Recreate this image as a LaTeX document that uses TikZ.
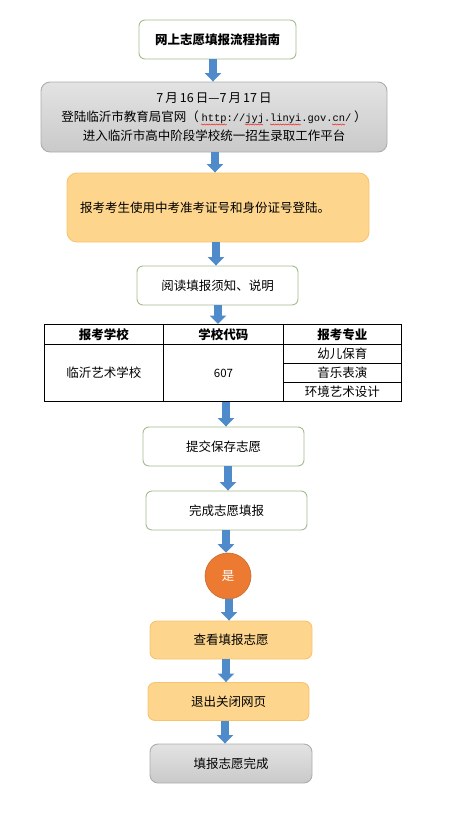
\documentclass[tikz,border=0pt]{standalone}
\usepackage{fontspec}
\setmainfont{Noto Sans CJK SC}
\newfontfamily\monofont{Liberation Mono}
\usetikzlibrary{arrows.meta,decorations.pathmorphing}
\definecolor{arrowblue}{HTML}{4F8ACB}
\definecolor{greenborder}{HTML}{A3BD8E}
\definecolor{orangefill}{HTML}{FDD58C}
\definecolor{orangeborder}{HTML}{F7C46E}
\definecolor{grayborder}{HTML}{ADADAD}
\definecolor{circorange}{HTML}{EC7A31}
\tikzset{
  flow/.style={draw=arrowblue,line width=7.5pt,-{Triangle[width=16pt,length=8.5pt]}},
  whitebox/.style={draw=greenborder,line width=0.9pt,fill=white,rounded corners=6pt,minimum width=161pt,minimum height=39pt,font=\fontsize{12.5}{14}\selectfont,inner sep=0pt},
  orangebox/.style={draw=orangeborder,line width=0.9pt,fill=orangefill,rounded corners=7pt,minimum width=161pt,minimum height=38pt,font=\fontsize{12.5}{14}\selectfont,inner sep=0pt},
  graybox/.style={draw=grayborder,line width=0.9pt,top color=gray!22,bottom color=gray!42,rounded corners=8pt,minimum width=161pt,minimum height=39pt,font=\fontsize{12.5}{14}\selectfont,inner sep=0pt},
  cell/.style={draw=black,line width=0.9pt,rectangle,inner sep=0pt,font=\fontsize{12.5}{14}\selectfont,anchor=north west},
  spell/.style={draw=red,line width=0.4pt,decorate,decoration={snake,amplitude=0.6pt,segment length=2.5pt}}
}
\begin{document}
\begin{tikzpicture}[x=1pt,y=-1pt]
\useasboundingbox (0,0) rectangle (463,817);
% boxes
\node[whitebox,font=\fontsize{12.5}{14}\selectfont\bfseries,minimum width=157pt] (title) at (217.5,39.5) {网上志愿填报流程指南};
\node[graybox,minimum width=346pt,minimum height=70pt,align=center,font=\fontsize{12.5}{19}\selectfont,rounded corners=9pt] (gray) at (214,117)
  {7\,月\,16\,日—7\,月\,17\,日\\登陆临沂市教育局官网（ {\monofont\fontsize{10.4}{14}\selectfont http://jyj.linyi.gov.cn/} ）\\进入临沂市高中阶段学校统一招生录取工作平台};
\node[orangebox,minimum width=302pt,minimum height=69pt,rounded corners=10pt] (login) at (218,207.5) {};
\node[anchor=west,font=\fontsize{12.5}{14}\selectfont,inner sep=0pt] (logintext) at (80,208) {报考考生使用中考准考证号和身份证号登陆。};
\node[whitebox] (read) at (217.5,285.5) {阅读填报须知、说明};
% table
\node[cell,minimum width=119pt,minimum height=20pt,font=\fontsize{12.5}{14}\selectfont\bfseries] (h1) at (44,324) {报考学校};
\node[cell,minimum width=120pt,minimum height=20pt,font=\fontsize{12.5}{14}\selectfont\bfseries] (h2) at (163,324) {学校代码};
\node[cell,minimum width=118pt,minimum height=20pt,font=\fontsize{12.5}{14}\selectfont\bfseries] (h3) at (283,324) {报考专业};
\node[cell,minimum width=119pt,minimum height=57pt] (school) at (44,344) {临沂艺术学校};
\node[cell,minimum width=120pt,minimum height=57pt,font=\fontsize{11.5}{14}\selectfont] (code) at (163,344) {607};
\node[cell,minimum width=118pt,minimum height=19pt] (m1) at (283,344) {幼儿保育};
\node[cell,minimum width=118pt,minimum height=19pt] (m2) at (283,363) {音乐表演};
\node[cell,minimum width=118pt,minimum height=19pt] (m3) at (283,382) {环境艺术设计};
\node[whitebox] (submit) at (223.5,446.5) {提交保存志愿};
\node[whitebox] (complete) at (226.5,510.5) {完成志愿填报};
\node[circle,fill=circorange,draw=circorange!85!black,line width=0.6pt,minimum size=46pt,inner sep=0pt,text=white,font=\fontsize{12.5}{14}\selectfont] (yes) at (228,576) {是};
\node[orangebox,minimum width=162pt] (view) at (231,640) {查看填报志愿};
\node[orangebox] (exit) at (228.5,701.5) {退出关闭网页};
\node[graybox,minimum width=162pt] (done) at (231,763.5) {填报志愿完成};
% spell-check marks
\coordinate (s1a) at (201,124.5); \coordinate (s1b) at (227,124.5);
\coordinate (s2a) at (245,124.5); \coordinate (s2b) at (263,124.5);
\coordinate (s3a) at (270,124.5); \coordinate (s3b) at (301,124.5);
\coordinate (s4a) at (332,124.5); \coordinate (s4b) at (345,124.5);
\draw[spell] (s1a) -- (s1b);
\draw[spell] (s2a) -- (s2b);
\draw[spell] (s3a) -- (s3b);
\draw[spell] (s4a) -- (s4b);
% arrows
\draw[flow] (title.south -| 213,0) -- (gray.north -| 213,0);
\draw[flow] (gray.south -| 215,0) -- (login.north -| 215,0);
\draw[flow] (login.south -| 216,0) -- (read.north -| 216,0);
\draw[flow] (read.south -| 218,0) -- (h2.north -| 218,0);
\draw[flow] (code.south -| 226,0) -- (submit.north -| 226,0);
\draw[flow] (submit.south -| 228,0) -- (complete.north -| 228,0);
\draw[flow] (complete.south -| 226,0) -- (yes.north -| 226,0);
\draw[flow] (yes.south -| 229,0) -- (view.north -| 229,0);
\draw[flow] (view.south -| 226,0) -- (exit.north -| 226,0);
\draw[flow] (exit.south -| 225,0) -- (done.north -| 225,0);
\end{tikzpicture}
\end{document}
